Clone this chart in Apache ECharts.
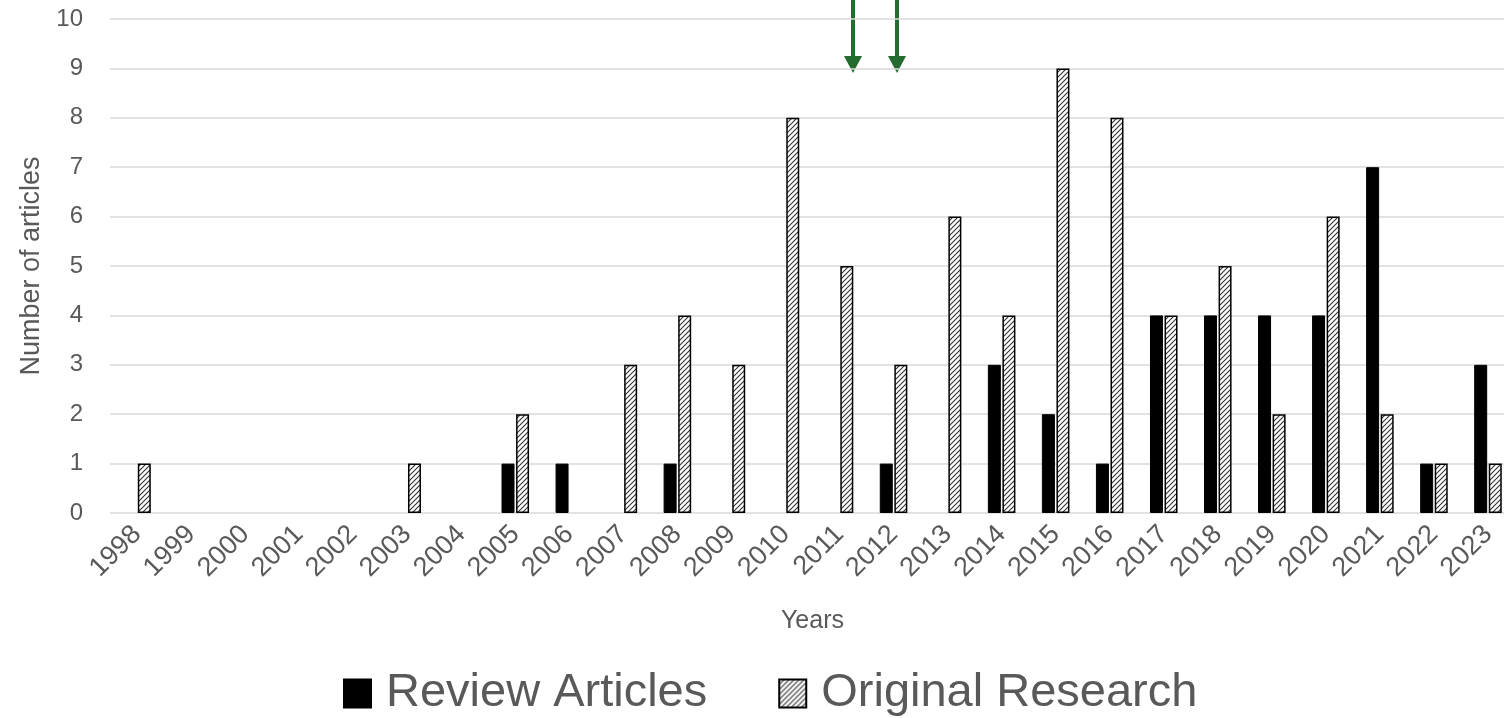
<!DOCTYPE html>
<html>
<head>
<meta charset="utf-8">
<script src="https://cdn.jsdelivr.net/npm/echarts@6/dist/echarts.min.js"></script>
<style>
html,body{margin:0;padding:0;background:#fff;overflow:hidden;width:1504px;height:718px;}
#chart{width:1515px;height:718px;}
</style>
</head>
<body>
<div id="chart"></div>
<script>
const years = ['1998','1999','2000','2001','2002','2003','2004','2005','2006','2007','2008','2009','2010','2011','2012','2013','2014','2015','2016','2017','2018','2019','2020','2021','2022','2023'];
const reviewArticles = [0,0,0,0,0,0,0,1,1,0,1,0,0,0,1,0,3,2,1,4,4,4,4,7,1,3];
const originalResearch = [1,0,0,0,0,1,0,2,0,3,4,3,8,5,3,6,4,9,8,4,5,2,6,2,1,1];
const yTicks = [0,10,1]; // min, max, interval

const FONT = "'Liberation Sans', Arial, sans-serif";
const TXT = '#595959';

function hatch() {
  const s = 5;
  const c = document.createElement('canvas');
  c.width = s; c.height = s;
  const g = c.getContext('2d');
  g.fillStyle = '#ffffff';
  g.fillRect(0, 0, s, s);
  g.strokeStyle = '#333333';
  g.lineWidth = 1.1;
  g.beginPath();
  g.moveTo(-1, s + 1); g.lineTo(s + 1, -1);
  g.moveTo(-1, 1); g.lineTo(1, -1);
  g.moveTo(s - 1, s + 1); g.lineTo(s + 1, s - 1);
  g.stroke();
  return c;
}
const hatchPattern = { image: hatch(), repeat: 'repeat' };

function toData(arr) {
  return arr.map(v => v === 0 ? { value: 0, itemStyle: { borderWidth: 0 } } : v);
}

const chart = echarts.init(document.getElementById('chart'), null, { renderer: 'canvas' });
chart.setOption({
  animation: false,
  backgroundColor: '#ffffff',
  textStyle: { fontFamily: FONT },
  grid: { left: 110, top: 19, right: 0, height: 494, containLabel: false },
  legend: {
    top: 665,
    left: 338,
    itemWidth: 27,
    itemHeight: 28,
    itemGap: 71,
    icon: 'rect',
    textStyle: { fontSize: 47, color: TXT, fontFamily: FONT, padding: [0, 0, 0, 10] },
    data: ['Review Articles', 'Original Research']
  },
  xAxis: {
    type: 'category',
    data: years,
    name: 'Years',
    nameLocation: 'middle',
    nameGap: 96,
    nameTextStyle: { fontSize: 25, color: TXT, fontFamily: FONT },
    axisLine: { show: false },
    axisTick: { show: false },
    axisLabel: { rotate: 45, fontSize: 27, color: TXT, fontFamily: FONT, margin: 17, interval: 0 }
  },
  yAxis: {
    type: 'value',
    min: yTicks[0], max: yTicks[1], interval: yTicks[2],
    name: 'Number of articles',
    nameLocation: 'middle',
    nameGap: 64,
    nameTextStyle: { fontSize: 27, color: TXT, fontFamily: FONT },
    axisLine: { show: false },
    axisTick: { show: false },
    axisLabel: { fontSize: 24, color: TXT, fontFamily: FONT, margin: 27 },
    splitLine: { lineStyle: { color: '#d9d9d9', width: 1.5 } }
  },
  series: [
    {
      name: 'Review Articles',
      type: 'bar',
      data: toData(reviewArticles),
      barWidth: 13,
      barGap: '12%',
      itemStyle: { color: '#000000', borderColor: '#000000', borderWidth: 1 }
    },
    {
      name: 'Original Research',
      type: 'bar',
      data: toData(originalResearch),
      barWidth: 13,
      itemStyle: { color: hatchPattern, borderColor: '#000000', borderWidth: 1.5 }
    }
  ],
  graphic: [
    { type: 'rect', shape: { x: 851, y: 0, width: 4, height: 59 }, style: { fill: '#236b2e' } },
    { type: 'polygon', shape: { points: [[844, 56], [862, 56], [853, 73]] }, style: { fill: '#236b2e' } },
    { type: 'rect', shape: { x: 895, y: 0, width: 4, height: 59 }, style: { fill: '#236b2e' } },
    { type: 'polygon', shape: { points: [[888, 56], [906, 56], [897, 73]] }, style: { fill: '#236b2e' } }
  ]
});
</script>
</body>
</html>
